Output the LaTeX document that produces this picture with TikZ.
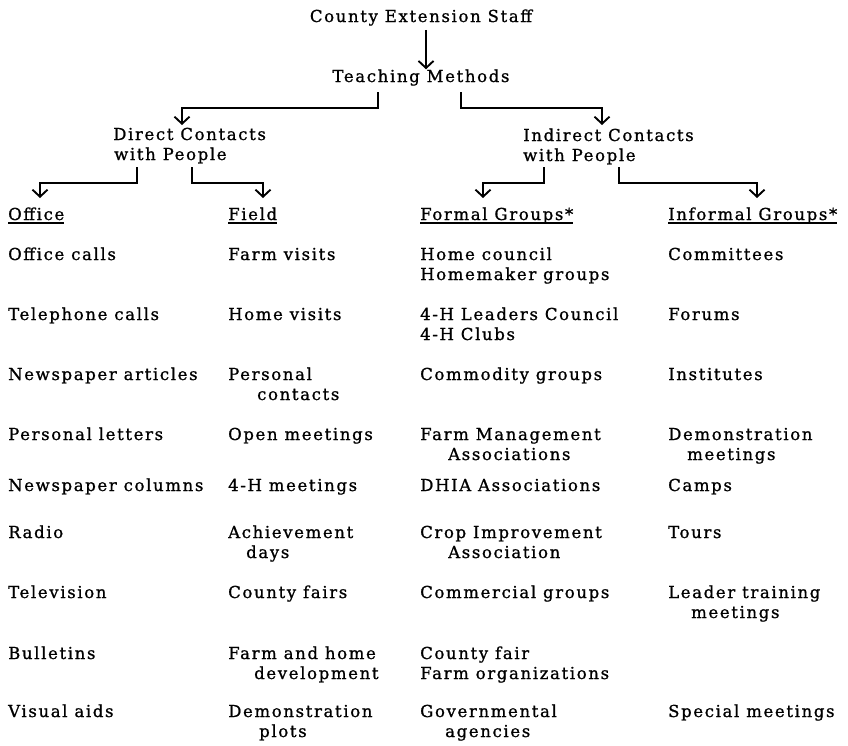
\documentclass[tikz,border=0pt]{standalone}
\usepackage{fontspec}
\setmainfont{DejaVu Serif}[LetterSpace=10,FakeBold=1]
\usetikzlibrary{arrows.meta}
\newcommand\myul[1]{\setbox0\hbox{#1}\rlap{\rule[-3.5pt]{\wd0}{1.3pt}}\box0}
\tikzset{
  txt/.style={anchor=base west, inner sep=0pt, align=left, font=\fontsize{16.5}{20}\selectfont},
  two/.style={yshift=-20pt},
  ctxt/.style={anchor=base, inner sep=0pt, align=center, font=\fontsize{16.5}{20}\selectfont},
  conn/.style={line width=1.9pt, -{Straight Barb[length=7pt,width=15pt]}},
}
\begin{document}
\begin{tikzpicture}[x=1pt,y=-1pt]
\useasboundingbox (0,0) rectangle (848,745);
% top
\node[ctxt] (ces) at (421,22) {County Extension Staff};
\node[ctxt] (tm) at (421,82) {Teaching Methods};
\draw[conn] (ces.south -| 426,0) ++(0,4) coordinate (a0) -- (tm.north -| a0);
% level 2
\node[txt,two] (dc) at (113,140) {Direct Contacts\\\hspace*{1pt}with People};
\node[txt,two] (ic) at (523,141) {Indirect Contacts\\with People};
\coordinate (tmL) at (378,92);
\coordinate (tmR) at (461,92);
\coordinate (dcT) at (182,125);
\coordinate (icT) at (602,125);
\draw[conn] (tmL) -- ++(0,16) -| (dcT);
\draw[conn] (tmR) -- ++(0,16) -| (icT);
% level 3
\coordinate (dcL) at (137,167);
\coordinate (dcR) at (192,167);
\coordinate (icL) at (544,167);
\coordinate (icR) at (619,167);
\coordinate (ofT) at (40,198);
\coordinate (fiT) at (263,198);
\coordinate (fgT) at (483,198);
\coordinate (igT) at (757,198);
\draw[conn] (dcL) -- ++(0,16) -| (ofT);
\draw[conn] (dcR) -- ++(0,16) -| (fiT);
\draw[conn] (icL) -- ++(0,16) -| (fgT);
\draw[conn] (icR) -- ++(0,16) -| (igT);
% headers
\node[txt] (of) at (8,220) {\myul{Office}};
\node[txt] (fi) at (228,220) {\myul{Field}};
\node[txt] (fg) at (420,220) {\myul{Formal Groups*}};
\node[txt] (ig) at (668,220) {\myul{Informal Groups*}};
% Office column
\node[txt] (o1) at (8,260) {Office calls};
\node[txt] (o2) at (8,320) {Telephone calls};
\node[txt] (o3) at (8,380) {Newspaper articles};
\node[txt] (o4) at (8,440) {Personal letters};
\node[txt] (o5) at (8,491) {Newspaper columns};
\node[txt] (o6) at (8,538) {Radio};
\node[txt] (o7) at (8,598) {Television};
\node[txt] (o8) at (8,659) {Bulletins};
\node[txt] (o9) at (8,717) {Visual aids};
% Field column
\node[txt] (f1) at (228,260) {Farm visits};
\node[txt] (f2) at (228,320) {Home visits};
\node[txt,two] (f3) at (228,380) {Personal\\\hspace*{29pt}contacts};
\node[txt] (f4) at (228,440) {Open meetings};
\node[txt] (f5) at (228,491) {4-H meetings};
\node[txt,two] (f6) at (228,538) {Achievement\\\hspace*{18pt}days};
\node[txt] (f7) at (228,598) {County fairs};
\node[txt,two] (f8) at (228,659) {Farm and home\\\hspace*{26pt}development};
\node[txt,two] (f9) at (228,717) {Demonstration\\\hspace*{31pt}plots};
% Formal groups column
\node[txt,two] (g1) at (420,260) {Home council\\Homemaker groups};
\node[txt,two] (g2) at (420,320) {4-H Leaders Council\\4-H Clubs};
\node[txt] (g3) at (420,380) {Commodity groups};
\node[txt,two] (g4) at (420,440) {Farm Management\\\hspace*{28pt}Associations};
\node[txt] (g5) at (420,491) {DHIA Associations};
\node[txt,two] (g6) at (420,538) {Crop Improvement\\\hspace*{28pt}Association};
\node[txt] (g7) at (420,598) {Commercial groups};
\node[txt,two] (g8) at (420,659) {County fair\\Farm organizations};
\node[txt,two] (g9) at (420,717) {Governmental\\\hspace*{25pt}agencies};
% Informal groups column
\node[txt] (i1) at (668,260) {Committees};
\node[txt] (i2) at (668,320) {Forums};
\node[txt] (i3) at (668,380) {Institutes};
\node[txt,two] (i4) at (668,440) {Demonstration\\\hspace*{19pt}meetings};
\node[txt] (i5) at (668,491) {Camps};
\node[txt] (i6) at (668,538) {Tours};
\node[txt,two] (i7) at (668,598) {Leader training\\\hspace*{23pt}meetings};
\node[txt] (i9) at (668,717) {Special meetings};
\end{tikzpicture}
\end{document}
